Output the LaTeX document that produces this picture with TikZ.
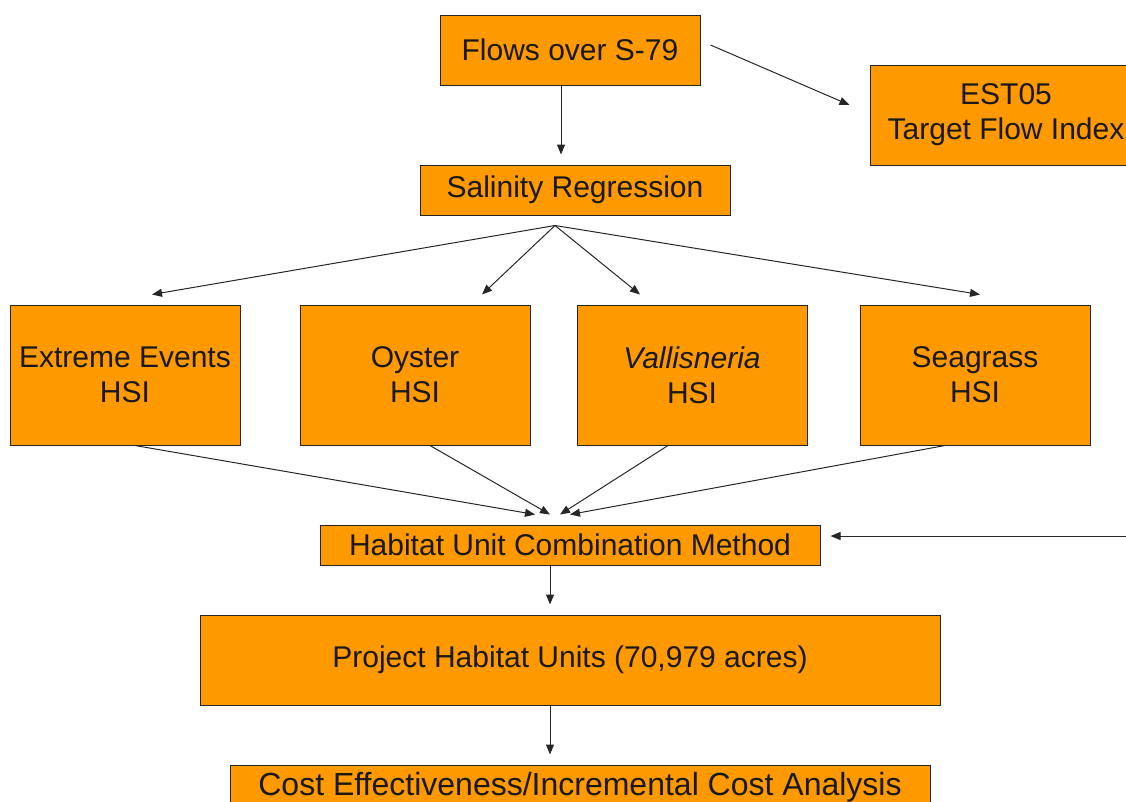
\documentclass[tikz,border=0pt]{standalone}
\usepackage{fontspec}
\setmainfont{Liberation Sans}
\usetikzlibrary{arrows.meta,calc}
\definecolor{boxorange}{HTML}{FF9900}
\begin{document}
\begin{tikzpicture}[x=1pt,y=-1pt,
  box/.style={draw=black!85, fill=boxorange, line width=1pt, inner sep=0pt, align=center,
    font=\fontsize{30}{35}\selectfont, text=black!90},
  arr/.style={draw=black!85, line width=1pt, -{Triangle[length=10pt,width=8pt]}}]
\useasboundingbox (0,0) rectangle (1126,801);
\begin{scope}
\clip (0,0) rectangle (1126,801);
\node[box, minimum width=260, minimum height=70] (flows) at (570,50) {Flows over S-79};
\node[box, minimum width=272, minimum height=100] (est) at (1006,115) {EST05\\Target Flow Index};
\node[box, minimum width=310, minimum height=50] (sal) at (575,190) {Salinity Regression};
\node[box, minimum width=230, minimum height=140] (ext) at (125,375) {Extreme Events\\HSI};
\node[box, minimum width=230, minimum height=140] (oys) at (415,375) {Oyster\\HSI};
\node[box, minimum width=230, minimum height=140] (val) at (692,375) {\textit{Vallisneria}\\HSI};
\node[box, minimum width=230, minimum height=140] (sea) at (975,375) {Seagrass\\HSI};
\node[box, minimum width=500, minimum height=40] (hab) at (570,545) {Habitat Unit Combination Method};
\node[box, minimum width=740, minimum height=90] (proj) at (570,660) {Project Habitat Units (70,979 acres)};
\node[box, minimum width=700, minimum height=44, font=\fontsize{32}{36}\selectfont] (cost) at (580,787) {Cost Effectiveness/Incremental Cost Analysis};

\coordinate (hub) at ($(sal.south)+(-20,10)$);
\coordinate (rin) at ($(hab.east)+(320,-9)$);

\draw[arr] ($(flows.south)+(-9,0)$) -- ($(sal.north)+(-14,-10)$);
\draw[arr] ($(flows.east)+(10,-5)$) -- ($(est.west)+(-20,-10)$);

\draw[arr] (hub) -- ($(ext.north)+(27,-10)$);
\draw[arr] (hub) -- ($(oys.north)+(67,-10)$);
\draw[arr] (hub) -- ($(val.north)+(-52,-10)$);
\draw[arr] (hub) -- ($(sea.north)+(5,-10)$);

\draw[arr] ($(ext.south)+(10,0)$) -- ($(hab.north)+(-35,-10)$);
\draw[arr] ($(oys.south)+(15,0)$) -- ($(hab.north)+(-20,-10)$);
\draw[arr] ($(val.south)+(-24,0)$) -- ($(hab.north)+(-10,-10)$);
\draw[arr] ($(sea.south)+(-30,0)$) -- ($(hab.north)+(0,-10)$);

\draw[arr] (rin) -- ($(hab.east)+(10,-9)$);
\draw[arr] ($(hab.south)+(-20,0)$) -- ($(proj.north)+(-20,-10)$);
\draw[arr] ($(proj.south)+(-20,0)$) -- ($(cost.north)+(-30,-10)$);
\end{scope}
\end{tikzpicture}
\end{document}
